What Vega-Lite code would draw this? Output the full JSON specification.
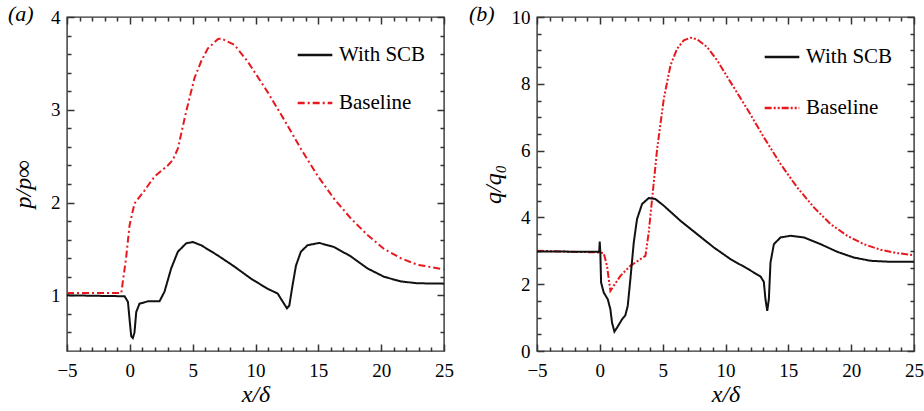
{
  "$schema": "https://vega.github.io/schema/vega-lite/v6.json",
  "padding": {"left": 7, "top": 2, "right": 0, "bottom": 2},
  "config": {
    "font": "Liberation Serif",
    "view": {"stroke": "#333", "strokeWidth": 1.4},
    "axis": {"grid": false, "domain": false, "ticks": true, "zindex": 1, "labelFont": "Liberation Serif", "labelFontSize": 19, "labelColor": "#000", "tickColor": "#333", "tickWidth": 1.5, "tickOpacity": 1, "titleFont": "Liberation Serif", "titleFontSize": 24, "titleFontStyle": "italic", "titleFontWeight": "normal", "titleColor": "#000"},
    "legend": {"labelFont": "Liberation Serif", "labelFontSize": 21, "labelColor": "#000", "symbolType": "stroke", "symbolSize": 1200, "symbolStrokeWidth": 2.5, "rowPadding": 19, "labelOffset": 5},
    "title": {"font": "Liberation Serif", "fontSize": 22, "fontStyle": "italic", "fontWeight": "normal", "color": "#000"}
  },
  "datasets": {
    "a": [
      {"s": "Baseline", "x": -5, "y": 1.025}, {"s": "Baseline", "x": -0.68, "y": 1.025}, {"s": "Baseline", "x": -0.3, "y": 1.4}, {"s": "Baseline", "x": -0.02, "y": 1.755}, {"s": "Baseline", "x": 0.37, "y": 1.99}, {"s": "Baseline", "x": 1.17, "y": 2.13}, {"s": "Baseline", "x": 1.96, "y": 2.28}, {"s": "Baseline", "x": 3.02, "y": 2.4}, {"s": "Baseline", "x": 3.42, "y": 2.46}, {"s": "Baseline", "x": 3.82, "y": 2.58}, {"s": "Baseline", "x": 4.48, "y": 2.98}, {"s": "Baseline", "x": 5.14, "y": 3.34}, {"s": "Baseline", "x": 5.67, "y": 3.52}, {"s": "Baseline", "x": 6.2, "y": 3.66}, {"s": "Baseline", "x": 7.0, "y": 3.76}, {"s": "Baseline", "x": 7.26, "y": 3.77}, {"s": "Baseline", "x": 8.32, "y": 3.7}, {"s": "Baseline", "x": 9.38, "y": 3.52}, {"s": "Baseline", "x": 10.97, "y": 3.19}, {"s": "Baseline", "x": 12.29, "y": 2.89}, {"s": "Baseline", "x": 13.61, "y": 2.58}, {"s": "Baseline", "x": 14.94, "y": 2.29}, {"s": "Baseline", "x": 16.26, "y": 2.04}, {"s": "Baseline", "x": 17.58, "y": 1.83}, {"s": "Baseline", "x": 18.91, "y": 1.65}, {"s": "Baseline", "x": 20.23, "y": 1.5}, {"s": "Baseline", "x": 21.56, "y": 1.4}, {"s": "Baseline", "x": 22.88, "y": 1.33}, {"s": "Baseline", "x": 25, "y": 1.28},
      {"s": "With SCB", "x": -5, "y": 1.0}, {"s": "With SCB", "x": -0.42, "y": 0.99}, {"s": "With SCB", "x": -0.15, "y": 0.93}, {"s": "With SCB", "x": 0.0, "y": 0.71}, {"s": "With SCB", "x": 0.11, "y": 0.56}, {"s": "With SCB", "x": 0.24, "y": 0.54}, {"s": "With SCB", "x": 0.37, "y": 0.6}, {"s": "With SCB", "x": 0.51, "y": 0.82}, {"s": "With SCB", "x": 0.77, "y": 0.91}, {"s": "With SCB", "x": 1.43, "y": 0.935}, {"s": "With SCB", "x": 1.96, "y": 0.935}, {"s": "With SCB", "x": 2.36, "y": 0.935}, {"s": "With SCB", "x": 2.76, "y": 1.04}, {"s": "With SCB", "x": 3.29, "y": 1.29}, {"s": "With SCB", "x": 3.82, "y": 1.47}, {"s": "With SCB", "x": 4.48, "y": 1.56}, {"s": "With SCB", "x": 5.01, "y": 1.575}, {"s": "With SCB", "x": 5.67, "y": 1.54}, {"s": "With SCB", "x": 7.0, "y": 1.43}, {"s": "With SCB", "x": 8.32, "y": 1.31}, {"s": "With SCB", "x": 9.64, "y": 1.18}, {"s": "With SCB", "x": 10.97, "y": 1.07}, {"s": "With SCB", "x": 11.76, "y": 1.02}, {"s": "With SCB", "x": 12.5, "y": 0.86}, {"s": "With SCB", "x": 12.69, "y": 0.89}, {"s": "With SCB", "x": 12.95, "y": 1.11}, {"s": "With SCB", "x": 13.22, "y": 1.32}, {"s": "With SCB", "x": 13.61, "y": 1.47}, {"s": "With SCB", "x": 14.14, "y": 1.54}, {"s": "With SCB", "x": 15.07, "y": 1.565}, {"s": "With SCB", "x": 16.26, "y": 1.52}, {"s": "With SCB", "x": 17.58, "y": 1.42}, {"s": "With SCB", "x": 18.91, "y": 1.29}, {"s": "With SCB", "x": 20.23, "y": 1.2}, {"s": "With SCB", "x": 21.56, "y": 1.15}, {"s": "With SCB", "x": 22.88, "y": 1.13}, {"s": "With SCB", "x": 25, "y": 1.126}
    ],
    "b": [
      {"s": "Baseline", "x": -5, "y": 3.0}, {"s": "Baseline", "x": 0.0, "y": 2.95}, {"s": "Baseline", "x": 0.31, "y": 2.93}, {"s": "Baseline", "x": 0.57, "y": 2.55}, {"s": "Baseline", "x": 0.84, "y": 1.8}, {"s": "Baseline", "x": 1.1, "y": 1.95}, {"s": "Baseline", "x": 1.64, "y": 2.25}, {"s": "Baseline", "x": 2.43, "y": 2.55}, {"s": "Baseline", "x": 3.23, "y": 2.75}, {"s": "Baseline", "x": 3.63, "y": 2.85}, {"s": "Baseline", "x": 3.89, "y": 3.55}, {"s": "Baseline", "x": 4.16, "y": 4.55}, {"s": "Baseline", "x": 4.56, "y": 6.05}, {"s": "Baseline", "x": 5.09, "y": 7.55}, {"s": "Baseline", "x": 5.62, "y": 8.55}, {"s": "Baseline", "x": 6.15, "y": 9.05}, {"s": "Baseline", "x": 6.68, "y": 9.3}, {"s": "Baseline", "x": 7.21, "y": 9.38}, {"s": "Baseline", "x": 7.74, "y": 9.33}, {"s": "Baseline", "x": 8.54, "y": 9.1}, {"s": "Baseline", "x": 9.34, "y": 8.7}, {"s": "Baseline", "x": 10.4, "y": 8.05}, {"s": "Baseline", "x": 11.72, "y": 7.25}, {"s": "Baseline", "x": 13.05, "y": 6.4}, {"s": "Baseline", "x": 14.38, "y": 5.6}, {"s": "Baseline", "x": 15.7, "y": 4.9}, {"s": "Baseline", "x": 17.03, "y": 4.3}, {"s": "Baseline", "x": 18.36, "y": 3.8}, {"s": "Baseline", "x": 19.69, "y": 3.45}, {"s": "Baseline", "x": 21.0, "y": 3.2}, {"s": "Baseline", "x": 22.34, "y": 3.03}, {"s": "Baseline", "x": 23.67, "y": 2.93}, {"s": "Baseline", "x": 25, "y": 2.87},
      {"s": "With SCB", "x": -5, "y": 2.98}, {"s": "With SCB", "x": -0.05, "y": 2.97}, {"s": "With SCB", "x": -0.01, "y": 3.28}, {"s": "With SCB", "x": 0.04, "y": 2.95}, {"s": "With SCB", "x": 0.1, "y": 2.05}, {"s": "With SCB", "x": 0.31, "y": 1.75}, {"s": "With SCB", "x": 0.63, "y": 1.55}, {"s": "With SCB", "x": 0.84, "y": 1.25}, {"s": "With SCB", "x": 0.97, "y": 0.85}, {"s": "With SCB", "x": 1.16, "y": 0.58}, {"s": "With SCB", "x": 1.37, "y": 0.7}, {"s": "With SCB", "x": 1.77, "y": 0.95}, {"s": "With SCB", "x": 2.03, "y": 1.07}, {"s": "With SCB", "x": 2.22, "y": 1.35}, {"s": "With SCB", "x": 2.43, "y": 2.15}, {"s": "With SCB", "x": 2.7, "y": 3.25}, {"s": "With SCB", "x": 2.96, "y": 3.95}, {"s": "With SCB", "x": 3.36, "y": 4.4}, {"s": "With SCB", "x": 3.89, "y": 4.58}, {"s": "With SCB", "x": 4.42, "y": 4.55}, {"s": "With SCB", "x": 5.09, "y": 4.35}, {"s": "With SCB", "x": 6.41, "y": 3.9}, {"s": "With SCB", "x": 7.74, "y": 3.5}, {"s": "With SCB", "x": 9.07, "y": 3.1}, {"s": "With SCB", "x": 10.4, "y": 2.75}, {"s": "With SCB", "x": 11.72, "y": 2.47}, {"s": "With SCB", "x": 12.79, "y": 2.23}, {"s": "With SCB", "x": 13.05, "y": 2.07}, {"s": "With SCB", "x": 13.18, "y": 1.55}, {"s": "With SCB", "x": 13.32, "y": 1.2}, {"s": "With SCB", "x": 13.45, "y": 1.55}, {"s": "With SCB", "x": 13.58, "y": 2.65}, {"s": "With SCB", "x": 13.85, "y": 3.2}, {"s": "With SCB", "x": 14.38, "y": 3.4}, {"s": "With SCB", "x": 15.17, "y": 3.45}, {"s": "With SCB", "x": 16.24, "y": 3.4}, {"s": "With SCB", "x": 17.56, "y": 3.2}, {"s": "With SCB", "x": 18.89, "y": 2.97}, {"s": "With SCB", "x": 20.2, "y": 2.8}, {"s": "With SCB", "x": 21.55, "y": 2.7}, {"s": "With SCB", "x": 23.14, "y": 2.67}, {"s": "With SCB", "x": 25, "y": 2.67}
    ]
  },
  "resolve": {"scale": {"color": "independent", "strokeDash": "independent"}},
  "spacing": 13,
  "hconcat": [
    {
      "width": 377, "height": 334,
      "data": {"name": "a"},
      "title": {"text": "(a)", "anchor": "start", "frame": "group", "dx": -59, "dy": 28, "baseline": "middle", "offset": 0},
      "resolve": {"axis": {"x": "independent", "y": "independent"}},
      "layer": [
        {
          "mark": {"type": "line", "strokeWidth": 2, "clip": true},
          "encoding": {
            "x": {"field": "x", "type": "quantitative", "scale": {"domain": [-5, 25], "nice": false, "zero": false}, "axis": {"orient": "bottom", "values": [-5, 0, 5, 10, 15, 20, 25], "offset": -7, "tickSize": 7, "labelPadding": 10, "title": "x/δ", "titlePadding": 2, "labelFlush": false}},
            "y": {"field": "y", "type": "quantitative", "scale": {"domain": [0.4, 4], "nice": false, "zero": false}, "axis": {"orient": "left", "values": [1, 2, 3, 4], "offset": -7, "tickSize": 7, "labelPadding": 7, "title": "p/p∞", "titlePadding": 15}},
            "color": {"field": "s", "type": "nominal", "scale": {"domain": ["With SCB", "Baseline"], "range": ["#111111", "#e8191e"]}, "legend": {"title": null, "orient": "none", "legendX": 229, "legendY": 19}},
            "strokeDash": {"field": "s", "type": "nominal", "scale": {"domain": ["With SCB", "Baseline"], "range": [[1, 0], [7, 3, 2, 3]]}, "legend": {"title": null, "orient": "none", "legendX": 229, "legendY": 19}}
          }
        },
        {
          "mark": {"type": "line", "opacity": 0},
          "encoding": {
            "x": {"field": "x", "type": "quantitative", "axis": {"orient": "top", "values": [-5, 0, 5, 10, 15, 20, 25], "offset": -7, "tickSize": 7, "labels": false, "title": null}},
            "y": {"field": "y", "type": "quantitative", "axis": {"orient": "right", "values": [1, 2, 3, 4], "offset": -7, "tickSize": 7, "labels": false, "title": null}},
            "detail": {"field": "s"}
          }
        },
        {
          "mark": {"type": "line", "opacity": 0},
          "encoding": {
            "x": {"field": "x", "type": "quantitative", "axis": {"orient": "bottom", "values": [-4, -3, -2, -1, 1, 2, 3, 4, 6, 7, 8, 9, 11, 12, 13, 14, 16, 17, 18, 19, 21, 22, 23, 24], "offset": -4, "tickSize": 4, "labels": false, "title": null}},
            "y": {"field": "y", "type": "quantitative", "axis": {"orient": "left", "values": [0.6, 0.8, 1.2, 1.4, 1.6, 1.8, 2.2, 2.4, 2.6, 2.8, 3.2, 3.4, 3.6, 3.8], "offset": -4, "tickSize": 4, "labels": false, "title": null}},
            "detail": {"field": "s"}
          }
        },
        {
          "mark": {"type": "line", "opacity": 0},
          "encoding": {
            "x": {"field": "x", "type": "quantitative", "axis": {"orient": "top", "values": [-4, -3, -2, -1, 1, 2, 3, 4, 6, 7, 8, 9, 11, 12, 13, 14, 16, 17, 18, 19, 21, 22, 23, 24], "offset": -4, "tickSize": 4, "labels": false, "title": null}},
            "y": {"field": "y", "type": "quantitative", "axis": {"orient": "right", "values": [0.6, 0.8, 1.2, 1.4, 1.6, 1.8, 2.2, 2.4, 2.6, 2.8, 3.2, 3.4, 3.6, 3.8], "offset": -4, "tickSize": 4, "labels": false, "title": null}},
            "detail": {"field": "s"}
          }
        }
      ]
    },
    {
      "width": 377, "height": 334,
      "data": {"name": "b"},
      "title": {"text": "(b)", "anchor": "start", "frame": "group", "dx": -68, "dy": 28, "baseline": "middle", "offset": 0},
      "resolve": {"axis": {"x": "independent", "y": "independent"}},
      "layer": [
        {
          "mark": {"type": "line", "strokeWidth": 2, "clip": true},
          "encoding": {
            "x": {"field": "x", "type": "quantitative", "scale": {"domain": [-5, 25], "nice": false, "zero": false}, "axis": {"orient": "bottom", "values": [-5, 0, 5, 10, 15, 20, 25], "offset": -7, "tickSize": 7, "labelPadding": 10, "title": "x/δ", "titlePadding": 2, "labelFlush": false}},
            "y": {"field": "y", "type": "quantitative", "scale": {"domain": [0, 10], "nice": false, "zero": false}, "axis": {"orient": "left", "values": [0, 2, 4, 6, 8, 10], "offset": -7, "tickSize": 7, "labelPadding": 7, "title": "q/q₀", "titlePadding": 6}},
            "color": {"field": "s", "type": "nominal", "scale": {"domain": ["With SCB", "Baseline"], "range": ["#111111", "#e8191e"]}, "legend": {"title": null, "orient": "none", "legendX": 226, "legendY": 21, "rowPadding": 22}},
            "strokeDash": {"field": "s", "type": "nominal", "scale": {"domain": ["With SCB", "Baseline"], "range": [[1, 0], [7, 2, 2, 2, 2, 2]]}, "legend": {"title": null, "orient": "none", "legendX": 226, "legendY": 21, "rowPadding": 22}}
          }
        },
        {
          "mark": {"type": "line", "opacity": 0},
          "encoding": {
            "x": {"field": "x", "type": "quantitative", "axis": {"orient": "top", "values": [-5, 0, 5, 10, 15, 20, 25], "offset": -7, "tickSize": 7, "labels": false, "title": null}},
            "y": {"field": "y", "type": "quantitative", "axis": {"orient": "right", "values": [0, 2, 4, 6, 8, 10], "offset": -7, "tickSize": 7, "labels": false, "title": null}},
            "detail": {"field": "s"}
          }
        },
        {
          "mark": {"type": "line", "opacity": 0},
          "encoding": {
            "x": {"field": "x", "type": "quantitative", "axis": {"orient": "bottom", "values": [-4, -3, -2, -1, 1, 2, 3, 4, 6, 7, 8, 9, 11, 12, 13, 14, 16, 17, 18, 19, 21, 22, 23, 24], "offset": -4, "tickSize": 4, "labels": false, "title": null}},
            "y": {"field": "y", "type": "quantitative", "axis": {"orient": "left", "values": [0.5, 1, 1.5, 2.5, 3, 3.5, 4.5, 5, 5.5, 6.5, 7, 7.5, 8.5, 9, 9.5], "offset": -4, "tickSize": 4, "labels": false, "title": null}},
            "detail": {"field": "s"}
          }
        },
        {
          "mark": {"type": "line", "opacity": 0},
          "encoding": {
            "x": {"field": "x", "type": "quantitative", "axis": {"orient": "top", "values": [-4, -3, -2, -1, 1, 2, 3, 4, 6, 7, 8, 9, 11, 12, 13, 14, 16, 17, 18, 19, 21, 22, 23, 24], "offset": -4, "tickSize": 4, "labels": false, "title": null}},
            "y": {"field": "y", "type": "quantitative", "axis": {"orient": "right", "values": [0.5, 1, 1.5, 2.5, 3, 3.5, 4.5, 5, 5.5, 6.5, 7, 7.5, 8.5, 9, 9.5], "offset": -4, "tickSize": 4, "labels": false, "title": null}},
            "detail": {"field": "s"}
          }
        }
      ]
    }
  ]
}
